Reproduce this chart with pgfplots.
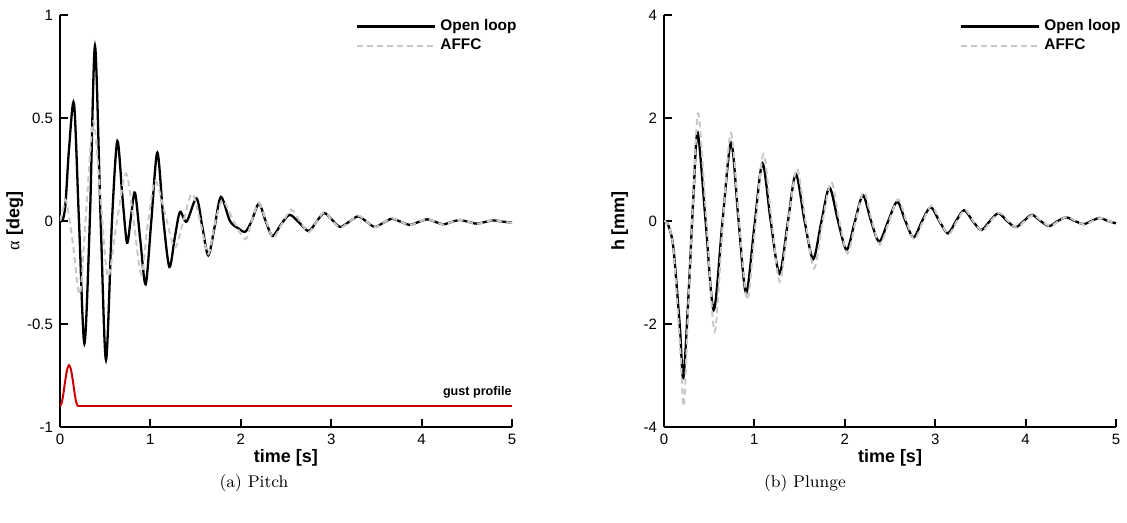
\documentclass[border=0pt]{standalone}
\usepackage{pgfplots}
\pgfplotsset{compat=1.18}
\usepackage{fontspec}
\newfontfamily\arial{Liberation Sans}
\newfontfamily\greek{Liberation Serif}
\definecolor{affc}{RGB}{200,200,200}
\definecolor{gust}{RGB}{204,0,0}
\pgfplotsset{
  myaxis/.style={
    scale only axis, width=226pt, height=206pt,
    axis lines=left,
    axis line style={-, line width=1.2pt},
    every outer x axis line/.append style={-},
    every outer y axis line/.append style={-},
    tick align=inside,
    tick pos=left,
    major tick length=4pt,
    every tick/.style={black, line width=1pt},
    xmin=0, xmax=5, xtick={0,1,2,3,4,5}, xticklabels={0,1,2,3,4,5},
    enlargelimits=false,
    tick label style={font=\arial\fontsize{7.5}{9}\selectfont},
    label style={font=\arial\bfseries\fontsize{9}{11}\selectfont},
    xlabel={time [s]},
    xlabel style={at={(axis description cs:0.5,0)}, anchor=north, yshift=-7.5pt},
    legend style={draw=none, fill=none, at={(axis description cs:1.033,1.01)}, anchor=north east,
      font=\arial\bfseries\fontsize{7.7}{9}\selectfont, row sep=-1.2pt},
    legend cell align=left,
    legend image code/.code={\draw[#1] (0pt,0pt) -- (39pt,0pt);},
  },
  openloop/.style={black, line width=1.15pt, smooth},
  affcs/.style={affc, line width=1pt, dash pattern=on 3pt off 2pt, smooth},
}
\begin{document}
\begin{tikzpicture}
\begin{axis}[myaxis, at={(0,0)}, anchor=south west,
  ymin=-1, ymax=1, ytick={-1,-0.5,0,0.5,1}, yticklabels={-1,-0.5,0,0.5,1},
  ylabel={{\mdseries\greek α} [deg]},
  ylabel style={at={(axis description cs:-0.066,0.5)}, anchor=south}]
\addplot[openloop] coordinates {
(0,0) (0.03,0.005) (0.06,0.08) (0.1,0.35) (0.155,0.57) (0.21,0) (0.27,-0.595)
(0.33,0) (0.387,0.85) (0.45,0) (0.509,-0.675) (0.575,0) (0.634,0.388) (0.69,0.12)
(0.741,-0.105) (0.785,0.02) (0.83,0.137) (0.89,-0.1) (0.948,-0.307) (1.01,0) (1.077,0.332)
(1.145,0) (1.21,-0.223) (1.27,-0.08) (1.327,0.044) (1.40,-0.003) (1.51,0.11)
(1.575,-0.03) (1.64,-0.167) (1.71,-0.03) (1.78,0.117) (1.88,0) (1.97,-0.035)
(2.05,-0.052) (2.12,0) (2.20,0.084) (2.275,0) (2.35,-0.073) (2.44,-0.02) (2.54,0.03)
(2.65,-0.01) (2.75,-0.049) (2.835,-0.005) (2.92,0.039) (3.01,0.005) (3.10,-0.029)
(3.20,-0.003) (3.30,0.023) (3.39,-0.003) (3.48,-0.029) (3.575,-0.009) (3.67,0.011)
(3.77,-0.004) (3.87,-0.019) (3.965,-0.005) (4.06,0.008) (4.15,-0.004) (4.24,-0.016)
(4.33,-0.005) (4.42,0.005) (4.515,-0.004) (4.61,-0.013) (4.70,-0.005) (4.79,0.003)
(4.895,-0.003) (5.0,-0.008)
};
\addlegendentry{Open loop}
\addplot[affcs] coordinates {
(0,0) (0.035,0.06) (0.07,0.097) (0.14,-0.1) (0.22,-0.355) (0.29,0.05) (0.37,0.485)
(0.45,0.1) (0.53,-0.27) (0.63,0) (0.73,0.23) (0.815,0) (0.9,-0.26) (0.975,0)
(1.055,0.195) (1.165,0.03) (1.27,-0.13) (1.365,0) (1.46,0.133) (1.55,0) (1.64,-0.16)
(1.72,0) (1.80,0.1) (1.92,0) (2.05,-0.088) (2.12,0) (2.20,0.085) (2.28,0) (2.36,-0.08)
(2.46,-0.01) (2.56,0.055) (2.66,-0.005) (2.75,-0.055) (2.835,-0.005) (2.92,0.042)
(3.01,0.003) (3.10,-0.033) (3.20,-0.004) (3.30,0.026) (3.39,-0.002) (3.48,-0.03)
(3.575,-0.009) (3.67,0.013) (3.77,-0.004) (3.87,-0.02) (3.965,-0.005) (4.06,0.009)
(4.15,-0.004) (4.24,-0.017) (4.33,-0.005) (4.42,0.006) (4.515,-0.004) (4.61,-0.014)
(4.70,-0.005) (4.79,0.004) (4.895,-0.003) (5.0,-0.009)
};
\addlegendentry{AFFC}
\addplot[gust, line width=1pt, smooth, forget plot] coordinates {
(0,-0.9) (0.02,-0.881) (0.04,-0.831) (0.06,-0.769) (0.08,-0.719) (0.1,-0.7)
(0.12,-0.719) (0.14,-0.769) (0.16,-0.831) (0.18,-0.881) (0.2,-0.9)
};
\addplot[gust, line width=1pt, forget plot] coordinates {(0.2,-0.9) (5,-0.9)};
\node[anchor=south east, inner sep=0pt, font=\arial\bfseries\fontsize{6.3}{7}\selectfont]
  at (axis cs:5,-0.86) {gust profile};
\end{axis}
\begin{axis}[myaxis, at={(302pt,0)}, anchor=south west,
  ymin=-4, ymax=4, ytick={-4,-2,0,2,4}, yticklabels={-4,-2,0,2,4},
  ylabel={h [mm]},
  ylabel style={at={(axis description cs:-0.064,0.5)}, anchor=south}]
\addplot[openloop] coordinates {
(0,0) (0.04,-0.05) (0.09,-0.35) (0.12,-0.82) (0.177,-2.1) (0.214,-3.05) (0.27,-1.47)
(0.325,0.47) (0.373,1.71) (0.46,0) (0.55,-1.73) (0.645,-0.05) (0.742,1.52) (0.825,0)
(0.908,-1.40) (1.0,-0.1) (1.089,1.12) (1.18,0) (1.277,-1.02) (1.37,-0.02) (1.458,0.91)
(1.555,0) (1.65,-0.74) (1.74,-0.02) (1.83,0.65) (1.925,0) (2.02,-0.56) (2.11,-0.02)
(2.20,0.50) (2.29,0) (2.38,-0.40) (2.48,0) (2.58,0.375) (2.67,0) (2.76,-0.32)
(2.855,0) (2.95,0.27) (3.045,0) (3.14,-0.24) (3.23,0) (3.32,0.21) (3.415,0)
(3.51,-0.175) (3.605,0) (3.70,0.15) (3.795,0) (3.89,-0.12) (3.98,0) (4.07,0.12)
(4.165,0) (4.26,-0.10) (4.355,0) (4.45,0.07) (4.545,0) (4.64,-0.06) (4.73,0)
(4.82,0.06) (4.91,0) (5.0,-0.045)
};
\addlegendentry{Open loop}
\addplot[affcs] coordinates {
(0,0) (0.04,-0.05) (0.09,-0.35) (0.12,-0.9) (0.18,-2.5) (0.22,-3.59) (0.27,-1.6)
(0.325,0.5) (0.38,2.09) (0.47,0) (0.56,-2.15) (0.65,-0.05) (0.74,1.71) (0.83,0)
(0.92,-1.53) (1.01,-0.1) (1.10,1.30) (1.19,0) (1.28,-1.18) (1.375,0) (1.47,1.02)
(1.565,0) (1.66,-0.92) (1.755,0) (1.85,0.76) (1.94,0) (2.03,-0.63) (2.12,0)
(2.21,0.57) (2.30,0) (2.39,-0.46) (2.49,0) (2.59,0.42) (2.68,0) (2.77,-0.36)
(2.865,0) (2.96,0.30) (3.05,0) (3.15,-0.26) (3.24,0) (3.33,0.22) (3.42,0)
(3.52,-0.19) (3.615,0) (3.71,0.16) (3.805,0) (3.90,-0.13) (3.99,0) (4.08,0.12)
(4.175,0) (4.27,-0.10) (4.365,0) (4.46,0.08) (4.555,0) (4.65,-0.07) (4.74,0)
(4.83,0.06) (4.915,0) (5.0,-0.045)
};
\addlegendentry{AFFC}
\end{axis}
\node[font=\fontsize{8.5}{10}\selectfont] at (97pt,-28pt) {(a) Pitch};
\node[font=\fontsize{8.5}{10}\selectfont] at (372.5pt,-28pt) {(b) Plunge};
\pgfresetboundingbox
\path (-30pt,-48pt) rectangle (533.5pt,213.5pt);
\end{tikzpicture}
\end{document}
